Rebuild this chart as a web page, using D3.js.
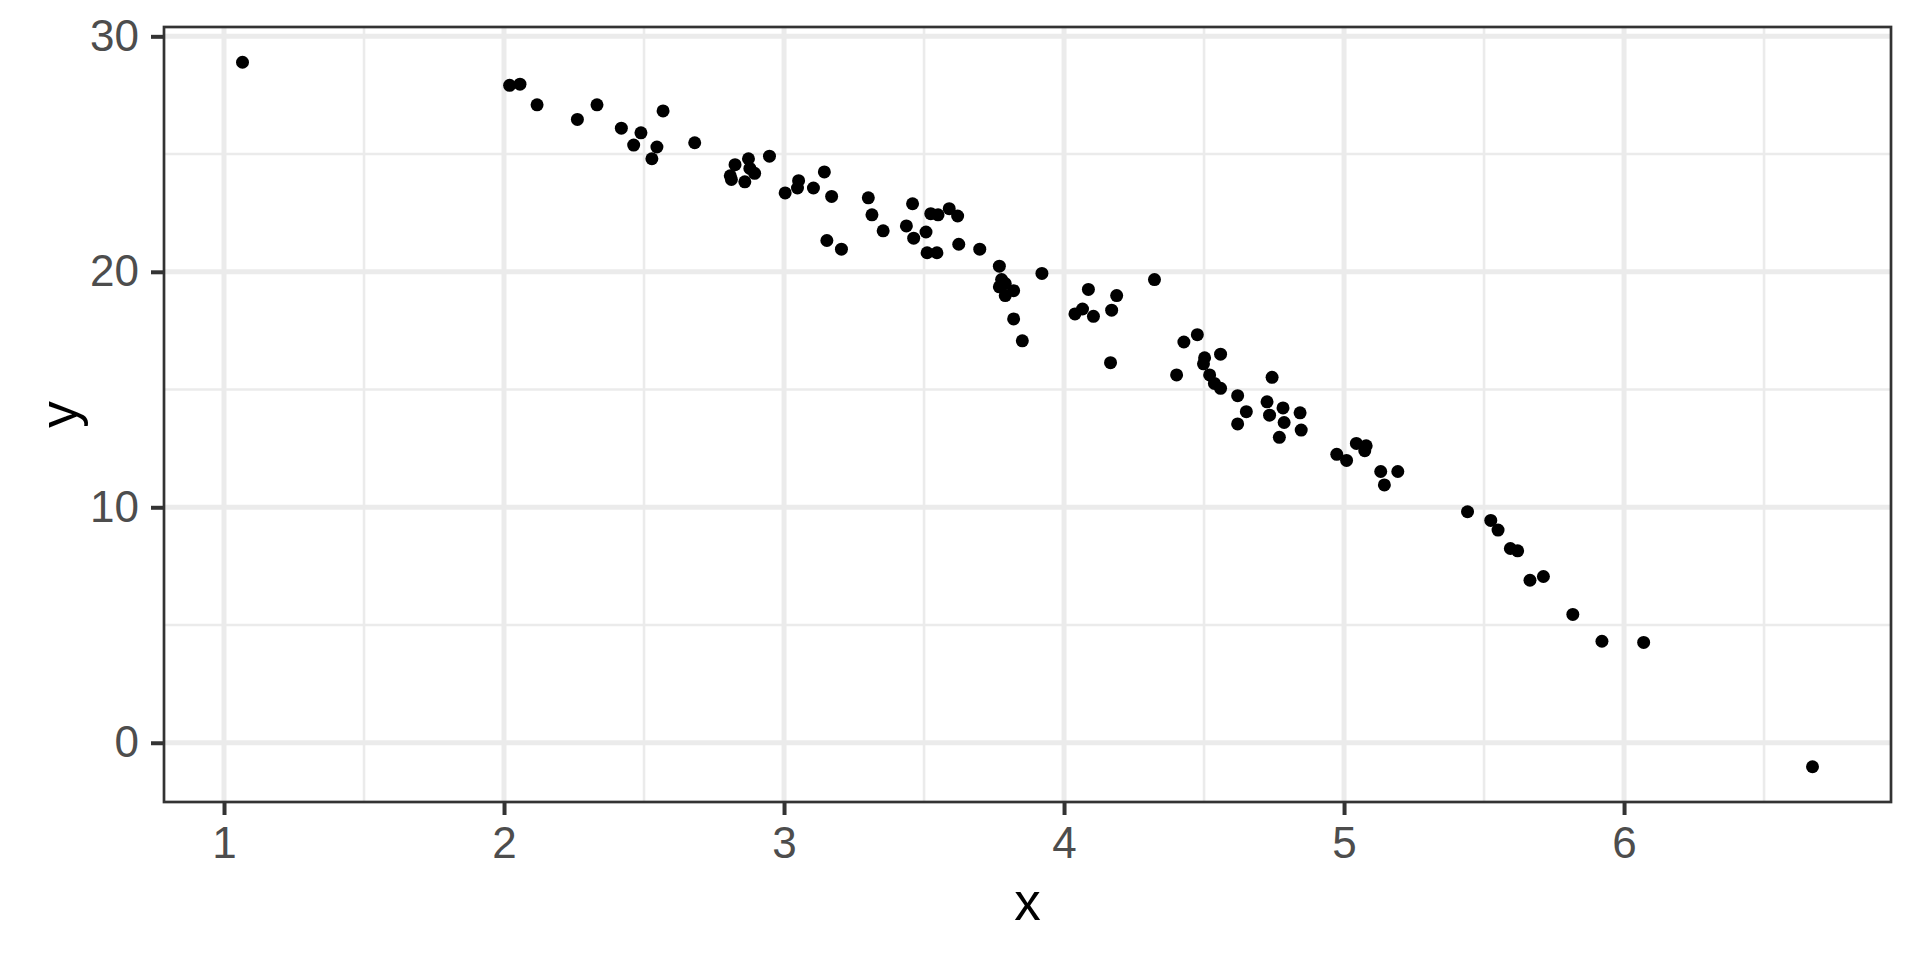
<!DOCTYPE html>
<html>
<head>
<meta charset="utf-8">
<script src="https://cdn.jsdelivr.net/npm/d3@7"></script>
<style>
  body { margin: 0; background: #fff; }
  svg { display: block; font-family: "Liberation Sans", Arial, sans-serif; }
</style>
</head>
<body>
<svg width="1920" height="960"></svg>
<script>
// values
const xs = [1.066, 2.02, 2.057, 2.118, 2.262, 2.332, 2.419, 2.489, 2.463, 2.528,
  2.546, 2.568, 2.681, 2.808, 2.812, 2.825, 2.86, 2.873, 2.878, 2.895,
  2.948, 3.004, 3.048, 3.052, 3.105, 3.144, 3.17, 3.153, 3.205, 3.301,
  3.314, 3.354, 3.437, 3.459, 3.463, 3.507, 3.511, 3.524, 3.55, 3.546,
  3.59, 3.62, 3.624, 3.699, 3.769, 3.777, 3.769, 3.79, 3.79, 3.82,
  3.82, 3.851, 3.921, 4.039, 4.066, 4.087, 4.105, 4.17, 4.188, 4.166,
  4.323, 4.402, 4.428, 4.476, 4.502, 4.498, 4.52, 4.537, 4.559, 4.559,
  4.62, 4.62, 4.651, 4.725, 4.734, 4.743, 4.769, 4.782, 4.786, 4.843,
  4.847, 4.974, 5.009, 5.044, 5.074, 5.079, 5.131, 5.144, 5.192, 5.441,
  5.524, 5.55, 5.594, 5.62, 5.664, 5.712, 5.817, 5.921, 6.07, 6.673]
const ys = [28.9, 27.92, 27.97, 27.09, 26.47, 27.09, 26.1, 25.9, 25.38, 24.8,
  25.3, 26.83, 25.48, 24.08, 23.92, 24.55, 23.82, 24.8, 24.39, 24.18,
  24.91, 23.35, 23.56, 23.87, 23.56, 24.24, 23.2, 21.33, 20.96, 23.14,
  22.42, 21.74, 21.95, 22.89, 21.43, 21.69, 20.81, 22.47, 22.42, 20.81,
  22.68, 22.37, 21.17, 20.96, 20.24, 19.67, 19.36, 19.5, 18.99, 19.2,
  18.0, 17.07, 19.93, 18.21, 18.42, 19.25, 18.11, 18.37, 18.99, 16.14,
  19.67, 15.62, 17.02, 17.33, 16.35, 16.09, 15.62, 15.26, 15.05, 16.5,
  14.74, 13.54, 14.06, 14.48, 13.91, 15.52, 12.97, 14.22, 13.6, 14.01,
  13.28, 12.25, 11.99, 12.71, 12.4, 12.61, 11.52, 10.95, 11.52, 9.81,
  9.44, 9.03, 8.25, 8.15, 6.9, 7.06, 5.45, 4.31, 4.26, -1.02]

const xTicks = [1, 2, 3, 4, 5, 6]
const xMinor = [1.5, 2.5, 3.5, 4.5, 5.5, 6.5]
const yTicks = [0, 10, 20, 30]
const yMinor = [5, 15, 25]

const panelLeft = 164, panelRight = 1891, panelTop = 27, panelBottom = 802

// ggplot style 5% expansion
function expand(ext) {
  const pad = (ext[1] - ext[0]) * 0.05
  return [ext[0] - pad, ext[1] + pad]
}

const x = d3.scaleLinear().domain(expand(d3.extent(xs))).range([panelLeft, panelRight])
const y = d3.scaleLinear().domain(expand(d3.extent(ys))).range([panelBottom, panelTop])

const svg = d3.select("svg")

const grid = svg.append("g")
grid.selectAll(".xminor").data(xMinor).join("line")
  .attr("x1", d => x(d)).attr("x2", d => x(d)).attr("y1", panelTop).attr("y2", panelBottom)
  .attr("stroke", "#EBEBEB").attr("stroke-width", 2.6)
grid.selectAll(".yminor").data(yMinor).join("line")
  .attr("y1", d => y(d)).attr("y2", d => y(d)).attr("x1", panelLeft).attr("x2", panelRight)
  .attr("stroke", "#EBEBEB").attr("stroke-width", 2.6)
grid.selectAll(".xmajor").data(xTicks).join("line")
  .attr("x1", d => x(d)).attr("x2", d => x(d)).attr("y1", panelTop).attr("y2", panelBottom)
  .attr("stroke", "#EBEBEB").attr("stroke-width", 5)
grid.selectAll(".ymajor").data(yTicks).join("line")
  .attr("y1", d => y(d)).attr("y2", d => y(d)).attr("x1", panelLeft).attr("x2", panelRight)
  .attr("stroke", "#EBEBEB").attr("stroke-width", 5)

svg.append("g").selectAll("circle")
  .data(xs.map((d, i) => [d, ys[i]]))
  .join("circle")
  .attr("cx", d => x(d[0]))
  .attr("cy", d => y(d[1]))
  .attr("r", 6.5)
  .attr("fill", "#000")

svg.append("rect")
  .attr("x", panelLeft).attr("y", panelTop)
  .attr("width", panelRight - panelLeft).attr("height", panelBottom - panelTop)
  .attr("fill", "none").attr("stroke", "#333333").attr("stroke-width", 2.7)

const xAxis = svg.append("g")
  .attr("transform", `translate(0,${panelBottom})`)
  .call(d3.axisBottom(x).tickValues(xTicks).tickSize(13).tickPadding(12).tickFormat(d3.format("d")))
const yAxis = svg.append("g")
  .attr("transform", `translate(${panelLeft},0)`)
  .call(d3.axisLeft(y).tickValues(yTicks).tickSize(13).tickPadding(12).tickFormat(d3.format("d")))

for (const ax of [xAxis, yAxis]) {
  ax.select(".domain").remove()
  ax.selectAll(".tick line").attr("stroke", "#333333").attr("stroke-width", 4)
  ax.selectAll(".tick text")
    .attr("fill", "#4D4D4D")
    .style("font-size", "44px")
    .style("font-family", '"Liberation Sans", Arial, sans-serif')
}

svg.append("text")
  .attr("x", (panelLeft + panelRight) / 2).attr("y", 920)
  .attr("text-anchor", "middle")
  .style("font-size", "53px")
  .text("x")

svg.append("text")
  .attr("transform", `translate(77,${(panelTop + panelBottom) / 2}) rotate(-90)`)
  .attr("text-anchor", "middle")
  .style("font-size", "53px")
  .text("y")
</script>
</body>
</html>
